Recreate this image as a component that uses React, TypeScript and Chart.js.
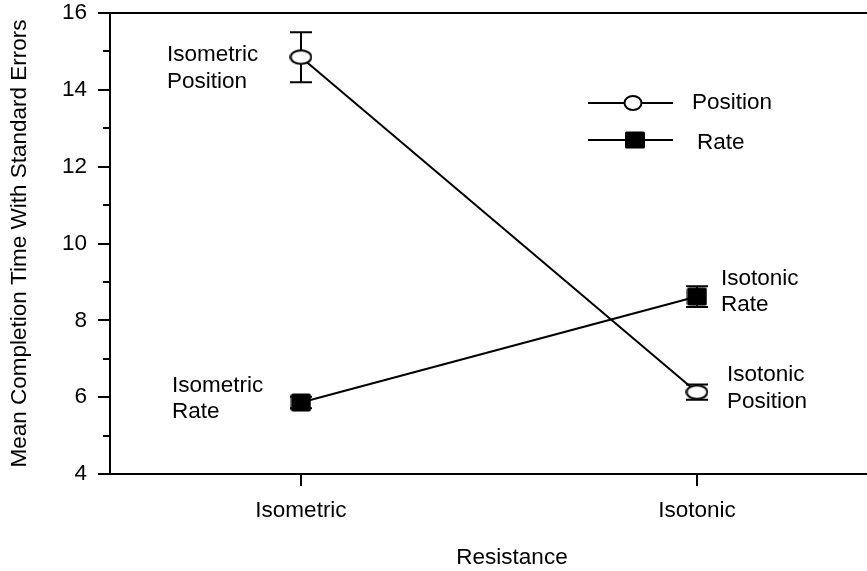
import React, { useEffect, useRef } from 'react';
import { Chart, registerables } from 'chart.js';

Chart.register(...registerables);

// Resistance conditions on the x axis
const groups = ['Isometric', 'Isotonic'];

// Mean completion times and their standard errors
const positionMeans = [14.85, 6.13];
const positionErrors = [0.65, 0.2];
const rateMeans = [5.86, 8.62];
const rateErrors = [0.15, 0.27];

const seriesNames = ['Position', 'Rate'];
const yMin = 4;
const yMax = 16;
const yStep = 2;
const xTitle = 'Resistance';
const yTitle = 'Mean Completion Time With Standard Errors';

// Text placed next to each plotted mean: [series, group, lines, dx, dy]
const pointNotes: [number, number, string[], number, number][] = [
  [0, 0, ['Isometric', 'Position'], -134, -2],
  [1, 0, ['Isometric', 'Rate'], -129, -17],
  [1, 1, ['Isotonic', 'Rate'], 24, -18],
  [0, 1, ['Isotonic', 'Position'], 30, -17],
];

const FONT_FAMILY = '"Liberation Sans", Arial, Helvetica, sans-serif';
const FONT_SIZE = 22.5;
const LINE_GAP = 26.5;

// The plot frame continues past the visible right edge of the figure.
const CANVAS_W = 914;
const CANVAS_H = 571;

function makeOpenEllipse(w: number, h: number): HTMLCanvasElement {
  const c = document.createElement('canvas');
  c.width = w;
  c.height = h;
  const g = c.getContext('2d')!;
  g.beginPath();
  g.ellipse(w / 2, h / 2, w / 2 - 1.2, h / 2 - 1.2, 0, 0, Math.PI * 2);
  g.fillStyle = '#fff';
  g.fill();
  g.lineWidth = 2;
  g.strokeStyle = '#000';
  g.stroke();
  return c;
}

function makeFilledSquare(w: number, h: number): HTMLCanvasElement {
  const c = document.createElement('canvas');
  c.width = w;
  c.height = h;
  const g = c.getContext('2d')!;
  g.beginPath();
  g.roundRect(0.5, 0.5, w - 1, h - 1, 2);
  g.fillStyle = '#000';
  g.fill();
  return c;
}

const errorBars = {
  id: 'errorBars',
  beforeDatasetsDraw(chart: any) {
    const ctx = chart.ctx;
    const y = chart.scales.y;
    const errs = [positionErrors, rateErrors];
    ctx.save();
    ctx.strokeStyle = '#000';
    ctx.lineWidth = 2;
    chart.data.datasets.forEach((ds: any, i: number) => {
      const meta = chart.getDatasetMeta(i);
      ds.data.forEach((d: any, j: number) => {
        const px = meta.data[j].x;
        const top = y.getPixelForValue(d.y + errs[i][j]);
        const bot = y.getPixelForValue(d.y - errs[i][j]);
        ctx.beginPath();
        ctx.moveTo(px, top);
        ctx.lineTo(px, bot);
        ctx.moveTo(px - 11, top);
        ctx.lineTo(px + 11, top);
        ctx.moveTo(px - 11, bot);
        ctx.lineTo(px + 11, bot);
        ctx.stroke();
      });
    });
    ctx.restore();
  },
};

const frameAndNotes = {
  id: 'frameAndNotes',
  afterDraw(chart: any) {
    const ctx = chart.ctx;
    const area = chart.chartArea;
    const y = chart.scales.y;
    ctx.save();
    ctx.strokeStyle = '#000';
    ctx.lineWidth = 2;
    // top frame line
    ctx.beginPath();
    ctx.moveTo(area.left - 1, area.top);
    ctx.lineTo(area.right, area.top);
    ctx.stroke();
    // minor ticks on the y axis
    for (let v = yMin + yStep / 2; v < yMax; v += yStep) {
      const py = Math.round(y.getPixelForValue(v));
      ctx.beginPath();
      ctx.moveTo(area.left - 7, py);
      ctx.lineTo(area.left, py);
      ctx.stroke();
    }

    // notes beside the means
    ctx.fillStyle = '#000';
    ctx.font = `${FONT_SIZE}px ${FONT_FAMILY}`;
    ctx.textAlign = 'left';
    ctx.textBaseline = 'middle';
    pointNotes.forEach(([s, g, lines, dx, dy]) => {
      const el = chart.getDatasetMeta(s).data[g];
      lines.forEach((t, k) => ctx.fillText(t, el.x + dx, el.y + dy + k * LINE_GAP));
    });

    // legend
    const lx = 588;
    const rows = [103, 140];
    rows.forEach((ly, i) => {
      ctx.beginPath();
      ctx.moveTo(lx, ly);
      ctx.lineTo(lx + 85, ly);
      ctx.stroke();
      if (i === 0) {
        ctx.beginPath();
        ctx.ellipse(lx + 45, ly, 8.5, 7, 0, 0, Math.PI * 2);
        ctx.fillStyle = '#fff';
        ctx.fill();
        ctx.stroke();
      } else {
        ctx.beginPath();
        ctx.roundRect(lx + 37, ly - 8.5, 20, 17, 1.5);
        ctx.fillStyle = '#000';
        ctx.fill();
      }
      ctx.fillStyle = '#000';
      ctx.fillText(seriesNames[i], i === 0 ? lx + 104 : lx + 109, ly + (i === 0 ? 0 : 3));
    });
    ctx.restore();
  },
};

export default function App() {
  const canvasRef = useRef<HTMLCanvasElement | null>(null);

  useEffect(() => {
    if (!canvasRef.current) return;
    const font = { family: FONT_FAMILY, size: FONT_SIZE };
    const ellipse = makeOpenEllipse(23, 16);
    const square = makeFilledSquare(21, 19);

    const chart = new Chart(canvasRef.current, {
      type: 'line',
      data: {
        datasets: [
          {
            label: seriesNames[0],
            data: groups.map((_, i) => ({ x: i, y: positionMeans[i] })),
            borderColor: '#000',
            borderWidth: 2,
            pointStyle: ellipse as any,
            pointRadius: 10,
            tension: 0,
          },
          {
            label: seriesNames[1],
            data: groups.map((_, i) => ({ x: i, y: rateMeans[i] })),
            borderColor: '#000',
            borderWidth: 2,
            pointStyle: square as any,
            pointRadius: 10,
            tension: 0,
          },
        ],
      },
      options: {
        animation: false,
        responsive: false,
        devicePixelRatio: 1,
        layout: { autoPadding: false, padding: { top: 13, right: 0, bottom: 0, left: 0 } },
        plugins: {
          legend: { display: false },
          tooltip: { enabled: false },
        },
        scales: {
          x: {
            type: 'linear',
            min: -0.4823,
            max: 1.548,
            afterBuildTicks: (s: any) => {
              s.ticks = groups.map((_, i) => ({ value: i }));
            },
            afterFit: (s: any) => {
              s.height = 97;
              s.paddingLeft = 0;
              s.paddingRight = 0;
            },
            ticks: {
              callback: (v: any) => groups[v as number] ?? '',
              font,
              color: '#000',
              padding: 11,
              maxRotation: 0,
              autoSkip: false,
            },
            grid: {
              display: true,
              drawOnChartArea: false,
              drawTicks: true,
              tickLength: 12,
              color: '#000',
              lineWidth: 2,
            },
            border: { display: true, color: '#000', width: 2 },
            title: { display: true, text: xTitle, font, color: '#000', padding: { top: 0, bottom: 0 } },
          },
          y: {
            min: yMin,
            max: yMax,
            afterFit: (s: any) => {
              s.width = 110;
              s.paddingTop = 0;
              s.paddingBottom = 0;
            },
            ticks: { stepSize: yStep, font, color: '#000', padding: 11 },
            grid: {
              display: true,
              drawOnChartArea: false,
              drawTicks: true,
              tickLength: 12,
              color: '#000',
              lineWidth: 2,
            },
            border: { display: true, color: '#000', width: 2 },
            title: { display: true, text: yTitle, font, color: '#000', padding: { top: 6, bottom: 0 } },
          },
        },
      },
      plugins: [errorBars, frameAndNotes],
    });
    return () => chart.destroy();
  }, []);

  return (
    <div
      style={{
        position: 'fixed',
        left: 0,
        top: 0,
        width: 867,
        height: CANVAS_H,
        overflow: 'hidden',
        background: '#fff',
      }}
    >
      <canvas ref={canvasRef} width={CANVAS_W} height={CANVAS_H} style={{ display: 'block' }} />
    </div>
  );
}
